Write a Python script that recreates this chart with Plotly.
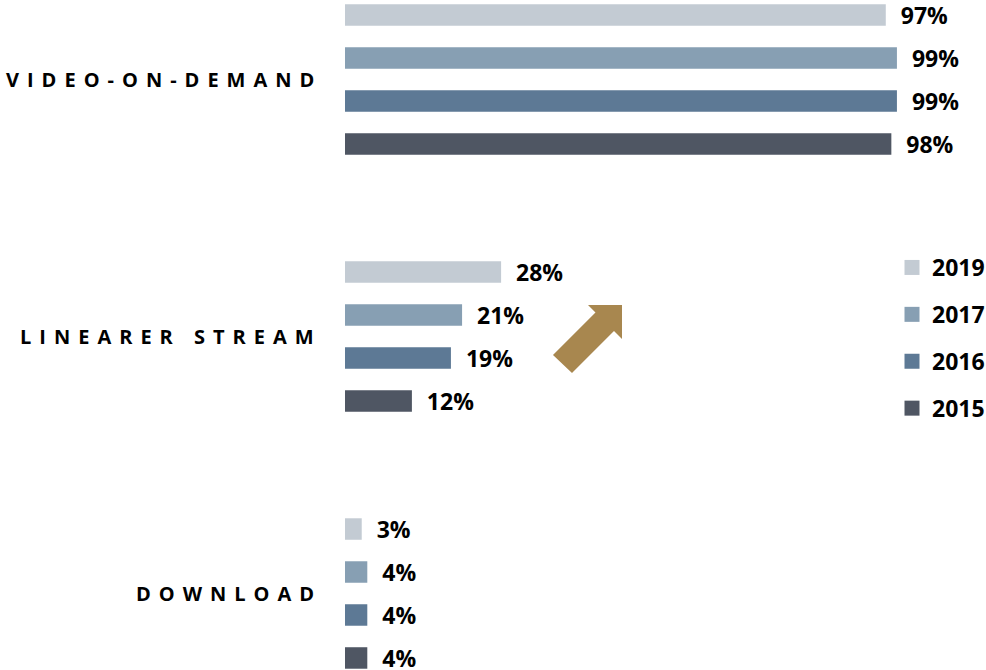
import plotly.graph_objects as go

categories = ["VIDEO-ON-DEMAND", "LINEARER STREAM", "DOWNLOAD"]
years = ["2019", "2017", "2016", "2015"]
values_2019 = [97, 28, 3]
values_2017 = [99, 21, 4]
values_2016 = [99, 19, 4]
values_2015 = [98, 12, 4]
series_values = [values_2019, values_2017, values_2016, values_2015]
colors = ["#C3CBD3", "#879FB3", "#5D7995", "#4F5663"]

W, H = 986, 670
ML = 345
PW, PH = W - ML, H
PX_PER_PCT = 5.575
GROUP_PX = 257
TOP_CENTER = 79.5

NB = "\u00a0"
LS = 8  # letter spacing of category labels (px)

fig = go.Figure()
for year, vals, col in zip(years, series_values, colors):
    fig.add_trace(go.Bar(
        y=categories, x=vals, orientation="h", name=year,
        marker=dict(color=col, line=dict(width=0)),
        text=[NB * 2 + f"{v}%" for v in vals],
        textposition="outside", constraintext="none", cliponaxis=False,
        textfont=dict(family="Open Sans", size=23, color="black", weight="bold"),
        showlegend=False, hoverinfo="skip",
    ))

# legend-only entries (square swatches)
for year, col in zip(years, colors):
    fig.add_trace(go.Scatter(
        x=[None], y=[None], mode="markers", name=year,
        marker=dict(symbol="square", size=15, color=col),
        legendgroup=year, showlegend=True, hoverinfo="skip",
    ))

for c in categories:
    fig.add_annotation(x=0, y=c, xref="x", yref="y",
                       text=f'<span style="letter-spacing:{LS}px">{c}</span>',
                       showarrow=False, xanchor="right", xshift=-29 + LS,
                       font=dict(family="Open Sans", size=20, color="black", weight="bold"))


def px2paper(px, py):
    return (px - ML) / PW, 1 - py / PH


arrow_px = [(553, 355), (595.5, 312.5), (588, 305), (622, 305), (622, 339), (614, 331), (572, 373)]
pts = [px2paper(x, y) for x, y in arrow_px]
path = "M " + " L ".join(f"{x:.5f},{y:.5f}" for x, y in pts) + " Z"
fig.add_shape(type="path", path=path, xref="paper", yref="paper",
              fillcolor="#A8874F", line=dict(width=0), layer="above")

r0 = -TOP_CENTER / GROUP_PX
r1 = r0 + PH / GROUP_PX

fig.update_layout(
    width=W, height=H,
    margin=dict(l=ML, r=0, t=0, b=0, autoexpand=False),
    paper_bgcolor="white", plot_bgcolor="white",
    font=dict(family="Open Sans", color="black"),
    barmode="group", bargap=0.331, bargroupgap=0.5,
    xaxis=dict(range=[0, PW / PX_PER_PCT], visible=False, fixedrange=True),
    yaxis=dict(type="category", range=[r1, r0], visible=False, fixedrange=True),
    showlegend=True,
    legend=dict(x=(892 - ML) / PW, y=1 - 246 / PH, xanchor="left", yanchor="top",
                traceorder="grouped", tracegroupgap=14, bgcolor="rgba(0,0,0,0)",
                font=dict(family="Open Sans", size=23, color="black", weight="bold")),
)

fig.write_html("out.html", config={"displayModeBar": False},
               post_script="document.body.style.margin='0';document.body.style.overflow='hidden';")
